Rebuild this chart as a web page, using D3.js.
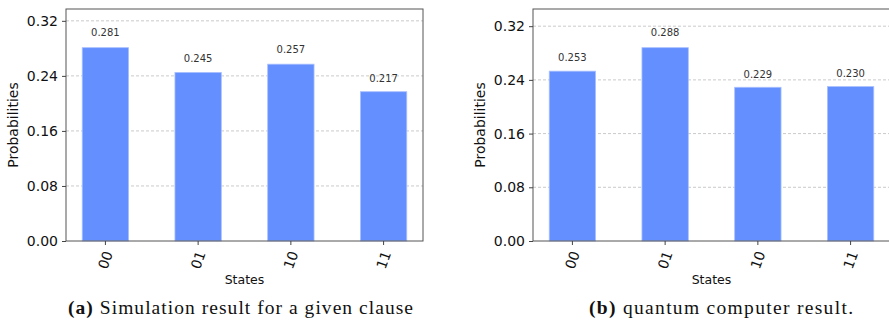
<!DOCTYPE html>
<html>
<head>
<meta charset="utf-8">
<script src="https://cdn.jsdelivr.net/npm/d3@7"></script>
<style>
  body { margin: 0; background: #fff; }
  svg { display: block; }
</style>
</head>
<body>
<div id="chart"></div>
<script>
// data
const states = ['00', '01', '10', '11'];
const simValues = [0.281, 0.245, 0.257, 0.217];
const qcValues = [0.253, 0.288, 0.229, 0.230];
const yTicks = [0, 0.08, 0.16, 0.24, 0.32];
const captionTags = ['(a)', '(b)'];
const captionTexts = ['Simulation result for a given clause', 'quantum computer result.'];

const width = 889;
const height = 322;

const svg = d3.select('#chart').append('svg')
  .attr('width', width)
  .attr('height', height);

function drawPanel(opts) {
  const g = svg.append('g');
  const { left, right, top, bottom, values } = opts;

  // matplotlib-style limits: bars of width .5 plus 5% margin, y up to 1.2 * max
  const x = d3.scaleLinear().domain([-0.425, states.length - 1 + 0.425]).range([left, right]);
  const y = d3.scaleLinear().domain([0, d3.max(values) * 1.2]).range([bottom, top]);
  const barW = x(0.5) - x(0);

  // grid
  g.selectAll('.grid')
    .data(yTicks.filter(t => t > 0))
    .enter().append('line')
    .attr('x1', left).attr('x2', right)
    .attr('y1', d => y(d)).attr('y2', d => y(d))
    .attr('stroke', '#bdbdbd')
    .attr('stroke-width', 0.8)
    .attr('stroke-dasharray', '3,2');

  // bars
  g.selectAll('.bar')
    .data(values)
    .enter().append('rect')
    .attr('x', (d, i) => x(i) - barW / 2)
    .attr('y', d => y(d))
    .attr('width', barW)
    .attr('height', d => bottom - y(d))
    .attr('fill', '#648fff')
    .attr('stroke', '#a9c0ff')
    .attr('stroke-width', 0.8);

  // value labels
  g.selectAll('.val')
    .data(values)
    .enter().append('text')
    .attr('x', (d, i) => x(i))
    .attr('y', d => y(d * 1.05) - 2)
    .attr('text-anchor', 'middle')
    .attr('font-family', 'DejaVu Sans')
    .attr('font-size', 10)
    .attr('fill', '#333')
    .text(d => d.toFixed(3));

  // frame
  g.append('rect')
    .attr('x', left).attr('y', top)
    .attr('width', right - left).attr('height', bottom - top)
    .attr('fill', 'none')
    .attr('stroke', '#555')
    .attr('stroke-width', 1);

  // y axis
  const yAxis = g.append('g')
    .attr('transform', `translate(${left},0)`)
    .call(d3.axisLeft(y).tickValues(yTicks).tickFormat(d3.format('.2f')).tickSize(4).tickPadding(4));
  yAxis.select('.domain').remove();
  yAxis.selectAll('line').attr('stroke', '#444');
  yAxis.selectAll('text')
    .attr('font-family', 'DejaVu Sans')
    .attr('font-size', 14)
    .attr('fill', '#111');

  // x ticks
  g.selectAll('.xtick')
    .data(states)
    .enter().append('line')
    .attr('x1', (d, i) => x(i)).attr('x2', (d, i) => x(i))
    .attr('y1', bottom).attr('y2', bottom + 4)
    .attr('stroke', '#444');

  g.selectAll('.xlab')
    .data(states)
    .enter().append('text')
    .attr('transform', (d, i) => `translate(${x(i)},${bottom + 19}) rotate(-70)`)
    .attr('text-anchor', 'middle')
    .attr('dy', '0.35em')
    .attr('font-family', 'DejaVu Sans')
    .attr('font-size', 14)
    .attr('fill', '#111')
    .text(d => d);

  // axis titles
  g.append('text')
    .attr('x', (left + right) / 2)
    .attr('y', bottom + 43)
    .attr('text-anchor', 'middle')
    .attr('font-family', 'DejaVu Sans')
    .attr('font-size', 12.5)
    .attr('fill', '#111')
    .text('States');

  g.append('text')
    .attr('transform', `translate(${opts.ylabX},${(top + bottom) / 2}) rotate(-90)`)
    .attr('text-anchor', 'middle')
    .attr('dy', '0.35em')
    .attr('font-family', 'DejaVu Sans')
    .attr('font-size', 14)
    .attr('fill', '#111')
    .text('Probabilities');

  // caption
  const cap = svg.append('text')
    .attr('x', opts.capX)
    .attr('y', 314)
    .attr('font-family', 'Liberation Serif')
    .attr('font-size', 19.5)
    .attr('fill', '#111')
    .attr('textLength', opts.capW)
    .attr('lengthAdjust', 'spacing');
  cap.append('tspan').attr('font-weight', 'bold').text(opts.tag);
  cap.append('tspan').text(' ' + opts.caption);
}

drawPanel({
  left: 66, right: 423, top: 9, bottom: 241,
  values: simValues, ylabX: 13,
  capX: 68, capW: 345, tag: captionTags[0], caption: captionTexts[0]
});

drawPanel({
  left: 533, right: 890, top: 9, bottom: 241,
  values: qcValues, ylabX: 480,
  capX: 589, capW: 264, tag: captionTags[1], caption: captionTexts[1]
});
</script>
</body>
</html>
